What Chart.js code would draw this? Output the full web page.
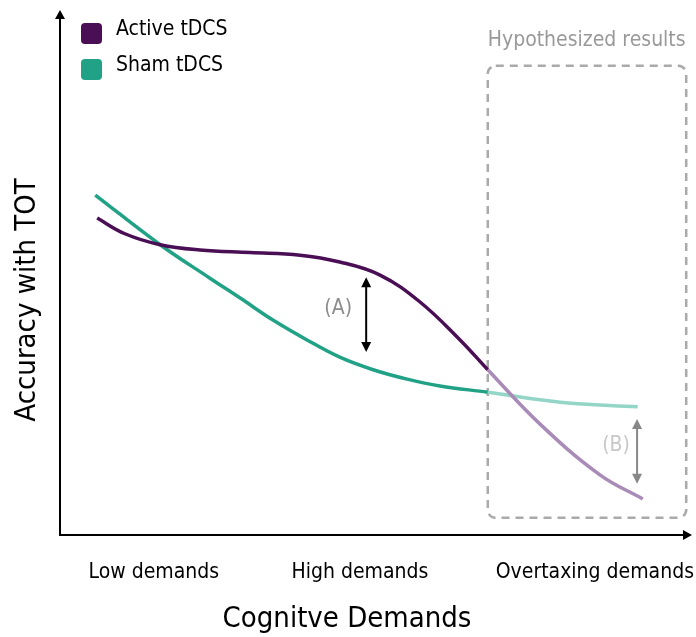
<!DOCTYPE html>
<html>
<head>
<meta charset="utf-8">
<script src="https://cdn.jsdelivr.net/npm/chart.js@4.4.1/dist/chart.umd.min.js"></script>
<style>
  html, body { margin: 0; padding: 0; background: #fff; }
  #wrap { width: 696px; height: 637px; }
</style>
</head>
<body>
<div id="wrap"><canvas id="myChart" width="696" height="637"></canvas></div>
<script>
const FONT = "'DejaVu Sans Condensed', 'Liberation Sans Narrow', sans-serif";

// x = cognitive demand (0-100), y = accuracy with time-on-task (0-100)
const activeX = [5.9, 10.3, 15.9, 22.2, 30.2, 38.1, 44.4, 50.8, 57.1, 63.5, 67.9, 76.2, 85.7, 92.5];
const activeY = [60.6, 57.6, 55.5, 54.5, 54.0, 53.5, 52.2, 49.7, 44.6, 37.3, 31.6, 21.2, 11.5, 6.9];
const shamX = [5.6, 15.9, 23.8, 28.6, 33.8, 39.2, 44.4, 49.7, 55.1, 60.3, 67.9, 79.4, 91.7];
const shamY = [65.0, 55.5, 49.1, 45.3, 41.1, 37.3, 34.0, 31.6, 29.8, 28.5, 27.3, 25.4, 24.5];

const demandLabels = ["Low demands", "High demands", "Overtaxing demands"];
const demandTicks = [14.9, 47.6, 84.9];

// everything past this demand level is hypothesized
const hypoStart = 67.9;

const colors = {
  active: "#4a0e55", activeLight: "#a98bb8",
  sham: "#21a286", shamLight: "#93d5c6"
};

const toPoints = (xs, ys) => xs.map((x, i) => ({ x: x, y: ys[i] }));

function arrowHead(c, x, y, dx, dy, len, half) {
  c.beginPath();
  c.moveTo(x, y);
  c.lineTo(x - dx * len - dy * half, y - dy * len + dx * half);
  c.lineTo(x - dx * len + dy * half, y - dy * len - dx * half);
  c.closePath();
  c.fill();
}

function doubleArrow(c, x, y1, y2, color) {
  c.save();
  c.strokeStyle = color;
  c.fillStyle = color;
  c.lineWidth = 2;
  c.beginPath();
  c.moveTo(x, y1 + 6);
  c.lineTo(x, y2 - 6);
  c.stroke();
  arrowHead(c, x, y1, 0, -1, 10, 5);
  arrowHead(c, x, y2, 0, 1, 10, 5);
  c.restore();
}

const decor = {
  id: "decor",
  beforeDatasetsDraw(chart) {
    const c = chart.ctx;
    const xs = chart.scales.x, ys = chart.scales.y;
    // dashed box around the hypothesized region
    const bx1 = xs.getPixelForValue(hypoStart), bx2 = xs.getPixelForValue(99.4);
    const by1 = ys.getPixelForValue(89.7), by2 = ys.getPixelForValue(3.3);
    c.save();
    c.strokeStyle = "#aaaaaa";
    c.lineWidth = 2.5;
    c.setLineDash([8, 6]);
    c.beginPath();
    c.roundRect(bx1, by1, bx2 - bx1, by2 - by1, 8);
    c.stroke();
    c.setLineDash([]);
    c.fillStyle = "#999999";
    c.font = "21px " + FONT;
    c.textAlign = "left";
    c.textBaseline = "middle";
    c.fillText("Hypothesized results", bx1, 41);
    c.restore();
  },
  afterDraw(chart) {
    const c = chart.ctx;
    const a = chart.chartArea;
    const xs = chart.scales.x, ys = chart.scales.y;
    c.save();
    // axes with arrow heads
    c.strokeStyle = "#000";
    c.fillStyle = "#000";
    c.lineWidth = 2;
    c.beginPath();
    c.moveTo(a.left, a.top + 4);
    c.lineTo(a.left, a.bottom);
    c.lineTo(a.right - 4, a.bottom);
    c.stroke();
    arrowHead(c, a.left, a.top - 2, 0, -1, 9, 5);
    arrowHead(c, a.right + 2, a.bottom, 1, 0, 9, 5);

    // axis titles
    c.font = "29px " + FONT;
    c.textAlign = "center";
    c.textBaseline = "middle";
    c.fillText("Cognitve Demands", 347, 619);
    c.save();
    c.translate(27, 300);
    c.rotate(-Math.PI / 2);
    c.fillText("Accuracy with TOT", 0, 0);
    c.restore();

    // legend
    c.font = "21px " + FONT;
    c.textAlign = "left";
    chart.data.datasets.forEach((ds, i) => {
      const y = 33 + i * 36;
      c.fillStyle = ds.borderColor;
      c.beginPath();
      c.roundRect(81, y - 10, 21, 21, 4);
      c.fill();
      c.fillStyle = "#000";
      c.fillText(ds.label, 116, y - 3);
    });

    // gap annotations
    const ax = xs.getPixelForValue(48.6);
    doubleArrow(c, ax, ys.getPixelForValue(49.3), ys.getPixelForValue(35.0), "#000");
    c.fillStyle = "#8c8c8c";
    c.textAlign = "center";
    c.fillText("(A)", ax - 28, 309);
    const bx = xs.getPixelForValue(91.6);
    doubleArrow(c, bx, ys.getPixelForValue(22.2), ys.getPixelForValue(9.8), "#888888");
    c.fillStyle = "#c8c8c8";
    c.fillText("(B)", bx - 21, 446);
    c.restore();
  }
};

const segColor = (dark, light) => (ctx) => ctx.p0.parsed.x >= hypoStart - 0.01 ? light : dark;

new Chart("myChart", {
  type: "line",
  data: {
    datasets: [
      {
        label: "Active tDCS",
        data: toPoints(activeX, activeY),
        borderColor: colors.active,
        segment: { borderColor: segColor(colors.active, colors.activeLight) },
        borderWidth: 3.5,
        pointRadius: 0,
        tension: 0.4
      },
      {
        label: "Sham tDCS",
        data: toPoints(shamX, shamY),
        borderColor: colors.sham,
        segment: { borderColor: segColor(colors.sham, colors.shamLight) },
        borderWidth: 3.5,
        pointRadius: 0,
        tension: 0.4
      }
    ]
  },
  options: {
    responsive: false,
    animation: false,
    layout: { padding: { top: 12, right: 6, left: 0, bottom: 0 } },
    plugins: { legend: { display: false }, tooltip: { enabled: false } },
    scales: {
      x: {
        type: "linear",
        min: 0,
        max: 100,
        grid: { display: false, drawTicks: false },
        border: { display: false },
        afterBuildTicks: (scale) => { scale.ticks = demandTicks.map(v => ({ value: v })); },
        afterFit: (scale) => {
          scale.height = 102;
          scale.paddingLeft = 0;
          scale.paddingRight = 0;
        },
        ticks: {
          padding: 25,
          maxRotation: 0,
          autoSkip: false,
          color: "#000",
          font: { family: FONT, size: 21 },
          callback: (v) => demandLabels[demandTicks.indexOf(v)]
        }
      },
      y: {
        min: 0,
        max: 100,
        grid: { display: false, drawTicks: false },
        border: { display: false },
        ticks: { display: false },
        afterFit: (scale) => { scale.width = 60; }
      }
    }
  },
  plugins: [decor]
});
</script>
</body>
</html>
